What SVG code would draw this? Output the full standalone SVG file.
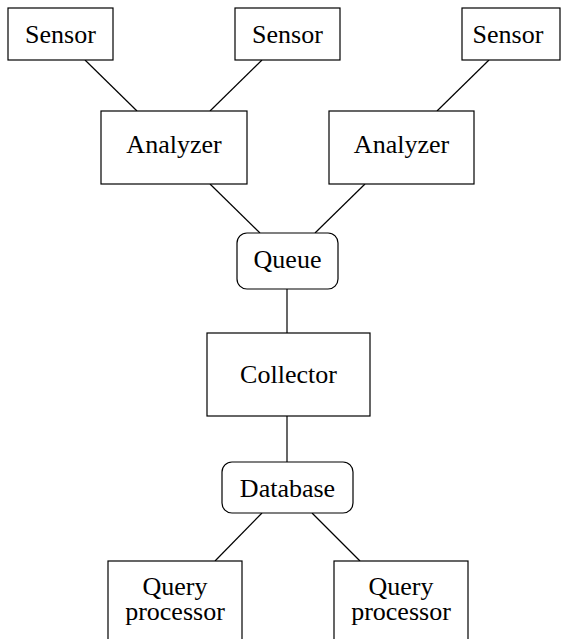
<svg xmlns="http://www.w3.org/2000/svg" width="561" height="639" viewBox="0 0 561 639">
<style>
.b{fill:#fff;stroke:#000;stroke-width:1.2}
.t{font-family:"Liberation Serif","Times New Roman",serif;font-size:26px;fill:#000;text-anchor:middle}
.c{stroke:#000;stroke-width:1.2;fill:none}
</style>
<rect width="561" height="639" fill="#fff"/>
<g id="connectors">
<line class="c" x1="85" y1="60" x2="137" y2="111"/>
<line class="c" x1="262" y1="60" x2="210" y2="111"/>
<line class="c" x1="489" y1="60" x2="437" y2="111"/>
<line class="c" x1="210" y1="184" x2="260" y2="233"/>
<line class="c" x1="365" y1="184" x2="315" y2="233"/>
<line class="c" x1="287" y1="289" x2="287" y2="333"/>
<line class="c" x1="287" y1="416" x2="287" y2="462"/>
<line class="c" x1="262" y1="513" x2="215" y2="561"/>
<line class="c" x1="312" y1="513" x2="360" y2="561"/>
</g>
<g id="sensor1"><rect class="b" x="8" y="8" width="105" height="52"/><text class="t" x="60.5" y="43">Sensor</text></g>
<g id="sensor2"><rect class="b" x="235" y="8" width="105" height="52"/><text class="t" x="287.5" y="43">Sensor</text></g>
<g id="sensor3"><rect class="b" x="462" y="8" width="98" height="52"/><text class="t" x="508" y="43">Sensor</text></g>
<g id="analyzer1"><rect class="b" x="101" y="111" width="146" height="73"/><text class="t" x="174" y="153">Analyzer</text></g>
<g id="analyzer2"><rect class="b" x="329" y="111" width="145" height="73"/><text class="t" x="401.5" y="153">Analyzer</text></g>
<g id="queue"><rect class="b" x="237" y="233" width="101" height="56" rx="10"/><text class="t" x="287.5" y="268">Queue</text></g>
<g id="collector"><rect class="b" x="207" y="333" width="163" height="83"/><text class="t" x="288.5" y="383">Collector</text></g>
<g id="database"><rect class="b" x="222" y="462" width="131" height="51" rx="10"/><text class="t" x="287.5" y="497">Database</text></g>
<g id="qp1"><rect class="b" x="108" y="561" width="134" height="90"/><text class="t" x="175" y="595">Query</text><text class="t" x="175" y="620">processor</text></g>
<g id="qp2"><rect class="b" x="334" y="561" width="134" height="90"/><text class="t" x="401" y="595">Query</text><text class="t" x="401" y="620">processor</text></g>
</svg>
